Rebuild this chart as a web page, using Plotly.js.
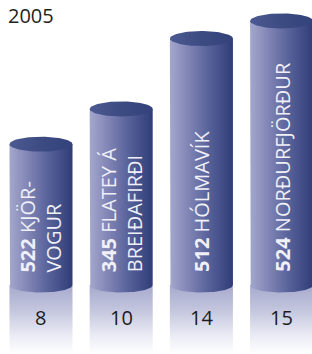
<!DOCTYPE html>
<html>
<head>
<meta charset="utf-8">
<script src="https://cdn.plot.ly/plotly-3.0.1.min.js"></script>
<style>html,body{margin:0;padding:0;background:#fff;}#chart{width:312px;height:354px;}</style>
</head>
<body>
<div id="chart"></div>
<script>
// Data
var yearLabel = '2005';
var codes = ['522', '345', '512', '524'];
var names = ['KJÖR-<br>VOGUR', 'FLATEY Á<br>BREIÐAFIRÐI', 'HÓLMAVÍK', 'NORÐURFJÖRÐUR'];
var values = [8, 10, 14, 15];

// geometry (styling)
var W = 0.393;   // half bar width in x units
var H = 0.426;   // ellipse half-height in y units
var YMIN = -3.92, YMAX = 16.19;
var XMIN = -0.511, XMAX = 3.379;
var N = 48;

var traces = [];
var annotations = [];

values.forEach(function (v, i) {
  var c = i;
  // reflection below the cylinder
  traces.push({
    type: 'scatter', mode: 'lines', fill: 'toself', hoverinfo: 'skip',
    x: [c - W, c + W, c + W, c - W, c - W],
    y: [0, 0, YMIN, YMIN, 0],
    line: {width: 0, color: 'rgba(0,0,0,0)'},
    fillgradient: {type: 'vertical', start: YMIN, stop: 0,
      colorscale: [[0, '#ffffff'], [0.25, '#ecedf5'], [0.6, '#c7c9e0'], [1, '#a6a9cc']]}
  });
  // body
  var bx = [c - W, c - W], by = [v, 0];
  for (var k = 0; k <= N; k++) {
    var t = Math.PI + Math.PI * k / N;
    bx.push(c + W * Math.cos(t));
    by.push(H * Math.sin(t));
  }
  bx.push(c + W, c - W); by.push(v, v);
  traces.push({
    type: 'scatter', mode: 'lines', fill: 'toself', hoverinfo: 'skip',
    x: bx, y: by,
    line: {width: 0, color: 'rgba(0,0,0,0)'},
    fillgradient: {type: 'horizontal', start: c - W, stop: c + W,
      colorscale: [[0, '#a4a7cc'], [0.3, '#8084b4'], [0.6, '#59639b'], [1, '#2f3d77']]}
  });
  // top cap
  var cx = [], cy = [];
  for (var k2 = 0; k2 <= N * 2; k2++) {
    var t2 = 2 * Math.PI * k2 / (N * 2);
    cx.push(c + W * Math.cos(t2));
    cy.push(v + H * Math.sin(t2));
  }
  traces.push({
    type: 'scatter', mode: 'lines', fill: 'toself', hoverinfo: 'skip',
    x: cx, y: cy,
    line: {width: 0, color: 'rgba(0,0,0,0)'},
    fillgradient: {type: 'horizontal', start: c - W, stop: c + W,
      colorscale: [[0, '#4d5a92'], [0.5, '#3d4b83'], [1, '#34427b']]}
  });
  // label inside the cylinder
  annotations.push({
    x: c, y: 0.62, xref: 'x', yref: 'y',
    text: '<b>' + codes[i] + '</b> ' + names[i],
    showarrow: false, textangle: -90, align: 'left',
    xanchor: 'center', yanchor: 'bottom',
    font: {family: 'Open Sans', size: 20, color: '#f0f0f8'}
  });
  // value below
  annotations.push({
    x: c, y: -1.85, xref: 'x', yref: 'y',
    text: String(v), showarrow: false,
    xanchor: 'center', yanchor: 'middle',
    font: {family: 'Open Sans', size: 20, color: '#1e1b1c'}
  });
});

annotations.push({
  x: 0.02, y: 1.0, xref: 'paper', yref: 'paper',
  xanchor: 'left', yanchor: 'top', showarrow: false,
  text: yearLabel,
  font: {family: 'Open Sans', size: 20, color: '#231f20'}
});

var layout = {
  width: 312, height: 354,
  margin: {l: 0, r: 0, t: 0, b: 0},
  paper_bgcolor: '#ffffff', plot_bgcolor: '#ffffff',
  showlegend: false,
  xaxis: {range: [XMIN, XMAX], visible: false, fixedrange: true},
  yaxis: {range: [YMIN, YMAX], visible: false, fixedrange: true},
  annotations: annotations
};

Plotly.newPlot('chart', traces, layout, {displayModeBar: false, staticPlot: true});
</script>
</body>
</html>
